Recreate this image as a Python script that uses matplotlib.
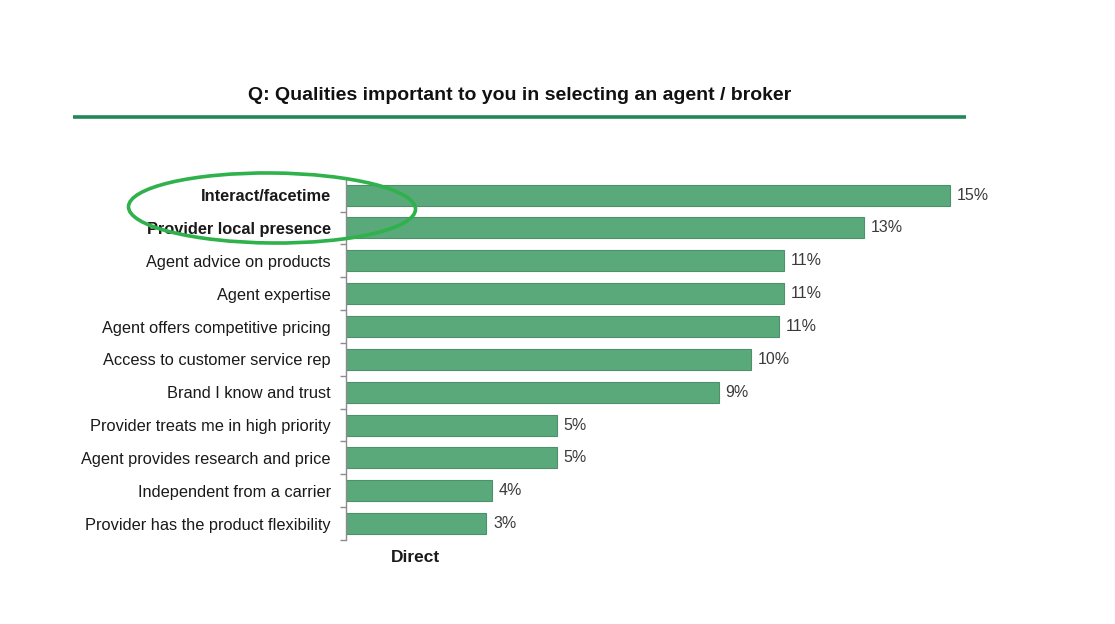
import matplotlib
matplotlib.use("Agg")
import matplotlib.pyplot as plt
from matplotlib.patches import Ellipse

plt.rcParams['font.family'] = ['Liberation Sans', 'DejaVu Sans']

# survey results, top to bottom
qualities = [
    "Interact/facetime",
    "Provider local presence",
    "Agent advice on products",
    "Agent expertise",
    "Agent offers competitive pricing",
    "Access to customer service rep",
    "Brand I know and trust",
    "Provider treats me in high priority",
    "Agent provides research and price",
    "Independent from a carrier",
    "Provider has the product flexibility",
]
share = [15.0, 12.86, 10.87, 10.87, 10.75, 10.05, 9.26, 5.24, 5.24, 3.62, 3.48]
highlighted = [0, 1]

W, H = 1115, 624
fig = plt.figure(figsize=(W / 100, H / 100), dpi=100)
fig.patch.set_facecolor("white")

# bar chart area
x0, x1 = 346, 990
y_top, y_bot = 178.7, 540
ax = fig.add_axes([x0 / W, 1 - y_bot / H, (x1 - x0) / W, (y_bot - y_top) / H])

pos = list(range(len(qualities)))
ax.barh(pos, share, height=0.64, color="#5aa97b", edgecolor="#4b9169", linewidth=0.8)
ax.set_xlim(0, 16)
ax.set_ylim(len(qualities) - 0.5, -0.5)

for i, v in zip(pos, share):
    ax.annotate(f"{v:.0f}%", (v, i), xytext=(5, 0), textcoords="offset points",
                va="center", ha="left", fontsize=11.5, color="#3a3a3a")

ax.set_yticks(pos)
ax.set_yticklabels(qualities, fontsize=11.8, color="#1a1a1a")
for i in highlighted:
    ax.get_yticklabels()[i].set_fontweight("bold")
ax.tick_params(axis="y", which="major", length=0, pad=11)
ax.set_yticks([p + 0.5 for p in pos], minor=True)
ax.tick_params(axis="y", which="minor", length=4, color="#8c8c8c", width=1)
ax.set_xticks([])
for s in ["top", "right", "bottom"]:
    ax.spines[s].set_visible(False)
ax.spines["left"].set_color("#8c8c8c")
ax.spines["left"].set_linewidth(1)

# overlay in pixel coordinates for title, rule, ellipse and axis name
ov = fig.add_axes([0, 0, 1, 1], facecolor="none")
ov.set_xlim(0, W)
ov.set_ylim(H, 0)
ov.axis("off")

ov.text(520, 96, "Q: Qualities important to you in selecting an agent / broker",
        ha="center", va="center", fontsize=14, fontweight="bold", color="#111111")
ov.plot([73, 966], [117, 117], color="#23875a", linewidth=2.6, solid_capstyle="butt")
ov.add_patch(Ellipse((272, 208), 287, 70, angle=0.5, fill=False,
                     edgecolor="#2fb14c", linewidth=2.6))
ov.text(415, 557, "Direct", ha="center", va="center", fontsize=12.5,
        fontweight="bold", color="#1a1a1a")

fig.savefig("out.png", dpi=100)
